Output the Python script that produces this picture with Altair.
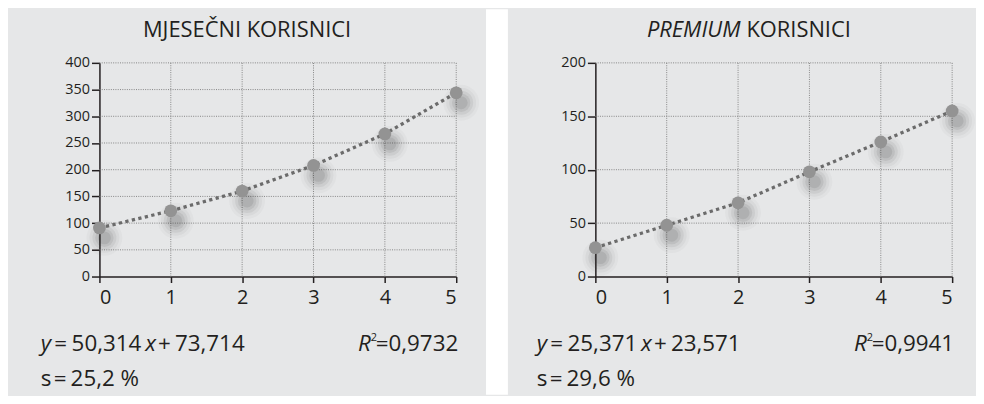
import altair as alt
import pandas as pd

# ---------------- data ----------------
x_vals = [0, 1, 2, 3, 4, 5]
monthly_users = [91, 123, 160, 208, 267, 344]
premium_users = [27, 48, 69, 98, 126, 155]
x_ticks = [0, 1, 2, 3, 4, 5]
monthly_y_ticks = [0, 50, 100, 150, 200, 250, 300, 350, 400]
premium_y_ticks = [0, 50, 100, 150, 200]
monthly_title = ["MJESEČNI KORISNICI"]
premium_title = ["PREMIUM", "KORISNICI"]
monthly_eq = ["50,314", "73,714", "0,9732", "25,2 %"]
premium_eq = ["25,371", "23,571", "0,9941", "29,6 %"]

FONT = "Open Sans"
INK = "#231f20"
BG = "#e6e7e8"
W, H = 359, 215
BOTTOM = 334


def txt(s, x, y, size=22.5, style="normal", align="left", baseline="alphabetic"):
    return alt.Chart(pd.DataFrame({"t": [s]})).mark_text(
        align=align, baseline=baseline, font=FONT, fontSize=size,
        fontStyle=style, color=INK
    ).encode(text="t:N", x=alt.value(x), y=alt.value(y))


def panel(values, yticks, ymax, left_ext, right_ext, eq, title_layers, gap=False):
    xsc = alt.Scale(domain=[0, 5], nice=False, zero=False)
    ysc = alt.Scale(domain=[0, ymax], nice=False)
    df = pd.DataFrame({"x": x_vals, "y": values})
    base = alt.Chart(df)

    xax = alt.Axis(values=x_ticks, title=None, grid=False, format="d",
                   tickSize=6, tickWidth=1.5, tickColor=INK,
                   domainColor=INK, domainWidth=1.5,
                   labelFont=FONT, labelFontSize=20, labelColor=INK,
                   labelPadding=5)
    yax = alt.Axis(values=yticks, title=None, grid=False, format="d",
                   tickSize=8, tickWidth=1.5, tickColor=INK,
                   domainColor=INK, domainWidth=1.5,
                   labelFont=FONT, labelFontSize=14.5, labelColor=INK,
                   labelPadding=2)

    def X(f):
        return alt.X(f, scale=xsc, axis=xax)

    def Y(f):
        return alt.Y(f, scale=ysc, axis=yax)

    one = pd.DataFrame({"a": [0]})
    bounds = alt.Chart(one).mark_rect(opacity=0).encode(
        x=alt.value(-left_ext), x2=alt.value(W + right_ext),
        y=alt.value(-54), y2=alt.value(BOTTOM))
    layers = [bounds]
    if gap:
        layers.append(alt.Chart(one).mark_rect(color="white").encode(
            x=alt.value(W + right_ext), x2=alt.value(W + right_ext + 22),
            y=alt.value(-54), y2=alt.value(BOTTOM)))

    ygdf = pd.DataFrame({"v": yticks[1:], "a": [0] * (len(yticks) - 1),
                         "b": [5] * (len(yticks) - 1)})
    xgdf = pd.DataFrame({"v": x_ticks[1:], "a": [0] * (len(x_ticks) - 1),
                         "b": [ymax] * (len(x_ticks) - 1)})
    ygrid = alt.Chart(ygdf).mark_rule(
        color="#858585", strokeDash=[1, 1.3], strokeWidth=1).encode(
        y=Y("v:Q"), x=X("a:Q"), x2="b:Q")
    xgrid = alt.Chart(xgdf).mark_rule(
        color="#858585", strokeDash=[1, 1.3], strokeWidth=1).encode(
        x=X("v:Q"), y=Y("a:Q"), y2="b:Q")
    layers += [ygrid, xgrid]

    for sz, op in [(1300, 0.03), (900, 0.045), (580, 0.065), (340, 0.085), (170, 0.1)]:
        layers.append(base.mark_circle(size=sz, color="#333333", opacity=op,
                                       xOffset=5, yOffset=10).encode(
            x=X("x:Q"), y=Y("y:Q")))

    line = base.mark_line(color="#6b6b6b", strokeWidth=3.3,
                          strokeDash=[3.3, 3.4]).encode(x=X("x:Q"), y=Y("y:Q"))
    pts = base.mark_circle(size=165, color="#939393", opacity=1).encode(
        x=X("x:Q"), y=Y("y:Q"))
    layers += [line, pts]

    # equation texts
    ex = -59
    layers += [
        txt("y", ex, 290, style="italic"),
        txt("=", ex + 13.5, 290),
        txt(eq[0], ex + 31, 290),
        txt("x", ex + 105, 290, style="italic"),
        txt("+", ex + 118, 290),
        txt(eq[1], ex + 135, 290),
        txt("=" + eq[2], W + 2, 290, align="right"),
        txt("2", W - 86, 280, size=11),
        txt("R", W - 86, 290, style="italic", align="right"),
        txt("s", ex, 325),
        txt("=", ex + 13, 325),
        txt(eq[3], ex + 30, 325),
    ]
    layers += title_layers
    return alt.layer(*layers).properties(width=W, height=H)


left = panel(monthly_users, monthly_y_ticks, 400, 92, 30, monthly_eq,
             [txt(monthly_title[0], 148.5, -26, size=22, align="center")],
             gap=True)
right = panel(premium_users, premium_y_ticks, 200, 88, 18, premium_eq,
              [txt(premium_title[0], 146, -26, size=22, style="italic", align="right"),
               txt(premium_title[1], 152, -26, size=22)])

chart = alt.hconcat(left, right, spacing=0).configure(
    background=BG, padding=0
).configure_view(stroke=None)

chart.save("out.html", embed_options={"renderer": "svg", "actions": False})
